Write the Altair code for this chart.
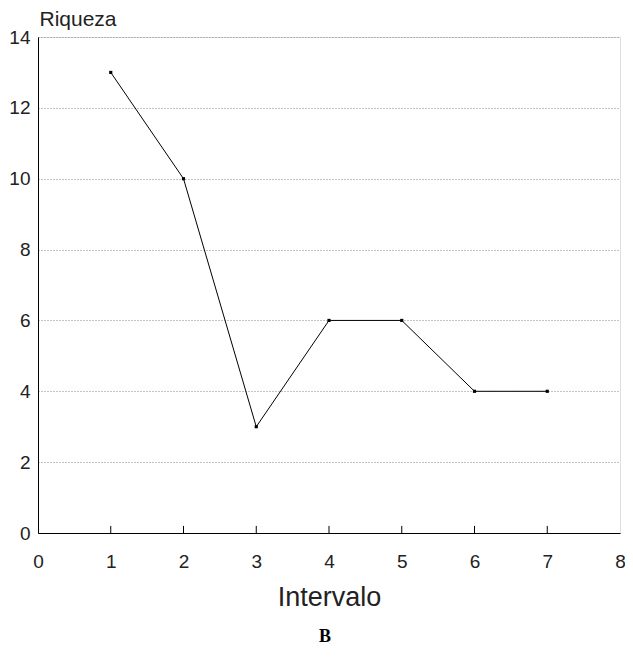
import altair as alt
import pandas as pd

# Data
intervalo = [1, 2, 3, 4, 5, 6, 7]
riqueza = [13, 10, 3, 6, 6, 4, 4]
x_ticks = [0, 1, 2, 3, 4, 5, 6, 7, 8]
y_ticks = [0, 2, 4, 6, 8, 10, 12, 14]
inner_ticks = [1, 2, 3, 4, 5, 6, 7]
caption = ["B"]

df = pd.DataFrame({"Intervalo": intervalo, "Riqueza": riqueza})
ticks_df = pd.DataFrame({"x": inner_ticks, "y0": [0] * len(inner_ticks), "y1": [0.2] * len(inner_ticks)})
cap_df = pd.DataFrame({"label": caption})

FONT = "Liberation Sans"

x_scale = alt.Scale(domain=[0, 8], nice=False, zero=False)
y_scale = alt.Scale(domain=[0, 14], nice=False)

x_axis = alt.Axis(
    values=x_ticks, format="d", ticks=False, tickSize=0, grid=False,
    labelFont=FONT, labelFontSize=19, labelColor="#222", labelPadding=34,
    labelBaseline="alphabetic", labelFlush=False,
    title="Intervalo", titleFont=FONT, titleFontSize=27, titleFontWeight="normal",
    titleColor="#222", titleBaseline="alphabetic", titleY=72,
    domainColor="black", domainWidth=1,
)
y_axis = alt.Axis(
    values=y_ticks, format="d", ticks=False, tickSize=0, grid=True,
    gridColor="#888", gridDash=[1, 2], gridWidth=1,
    labelFont=FONT, labelFontSize=19, labelColor="#222", labelPadding=8,
    labelBaseline="middle", labelFlush=False,
    title="Riqueza", titleFont=FONT, titleFontSize=21, titleFontWeight="normal",
    titleColor="#222", titleAngle=0, titleAlign="left", titleBaseline="alphabetic",
    titleX=1, titleY=-12,
    domainColor="black", domainWidth=1,
)

line = alt.Chart(df).mark_line(color="black", strokeWidth=1).encode(
    x=alt.X("Intervalo:Q", scale=x_scale, axis=x_axis),
    y=alt.Y("Riqueza:Q", scale=y_scale, axis=y_axis),
)
pts = alt.Chart(df).mark_point(shape="square", filled=True, color="black", size=10, opacity=1).encode(
    x=alt.X("Intervalo:Q", scale=x_scale),
    y=alt.Y("Riqueza:Q", scale=y_scale),
)
ticks = alt.Chart(ticks_df).mark_rule(color="black", strokeWidth=1).encode(
    x=alt.X("x:Q", scale=x_scale),
    y=alt.Y("y0:Q", scale=y_scale),
    y2="y1:Q",
)
cap = alt.Chart(cap_df).mark_text(
    font="Liberation Serif", fontWeight="bold", fontSize=18,
    baseline="alphabetic", align="center", color="black",
).encode(x=alt.value(287), y=alt.value(605), text="label:N")

chart = alt.layer(ticks, line, pts, cap).properties(
    width=582, height=496,
    autosize=alt.AutoSizeParams(type="none"),
    padding={"left": 30, "top": 29, "right": 5, "bottom": 114},
).configure_view(stroke="black", strokeWidth=1).configure(background="white")

chart.save("out.html", embed_options={"renderer": "svg", "actions": False})
